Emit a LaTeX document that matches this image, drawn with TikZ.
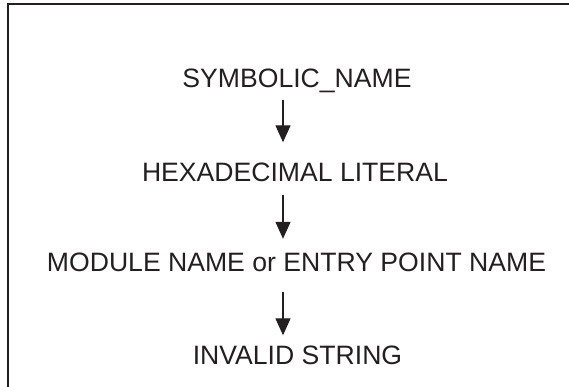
\documentclass[tikz,border=0pt]{standalone}
\usepackage{fontspec}
\setmainfont{Liberation Sans}
\usetikzlibrary{arrows.meta}
\definecolor{ink}{HTML}{231F20}
\tikzset{
  x=1pt,y=1pt,
  label/.style={inner sep=0pt, text=ink, font=\fontsize{26.6}{30}\selectfont, text height=19pt, text depth=0pt, anchor=center},
  flow/.style={draw=ink, line width=1.3pt, -{Triangle[width=15pt,length=17pt]}},
  frame/.style={draw=ink, line width=1.5pt}
}
\begin{document}
\begin{tikzpicture}
\useasboundingbox (0,0) rectangle (569,387);
\begin{scope}
\clip (0,0) rectangle (569,387);
\draw[frame] (8,-5) -- (8,383) -- (575,383);
\end{scope}
\coordinate (col) at (283,0);
\node[label] (s) at (297,309) {SYMBOLIC\_NAME};
\node[label] (h) at (295,215) {HEXADECIMAL LITERAL};
\node[label] (m) at (296.5,124.5) {MODULE NAME or ENTRY POINT NAME};
\node[label] (i) at (297.5,32) {INVALID STRING};
\draw[flow, shorten <=12pt, shorten >=20pt] (s.south -| col) -- (h.north -| col);
\draw[flow, shorten <=13pt, shorten >=14pt] (h.south -| col) -- (m.north -| col);
\draw[flow, shorten <=20pt, shorten >=10pt] (m.south -| col) -- (i.north -| col);
\end{tikzpicture}
\end{document}
